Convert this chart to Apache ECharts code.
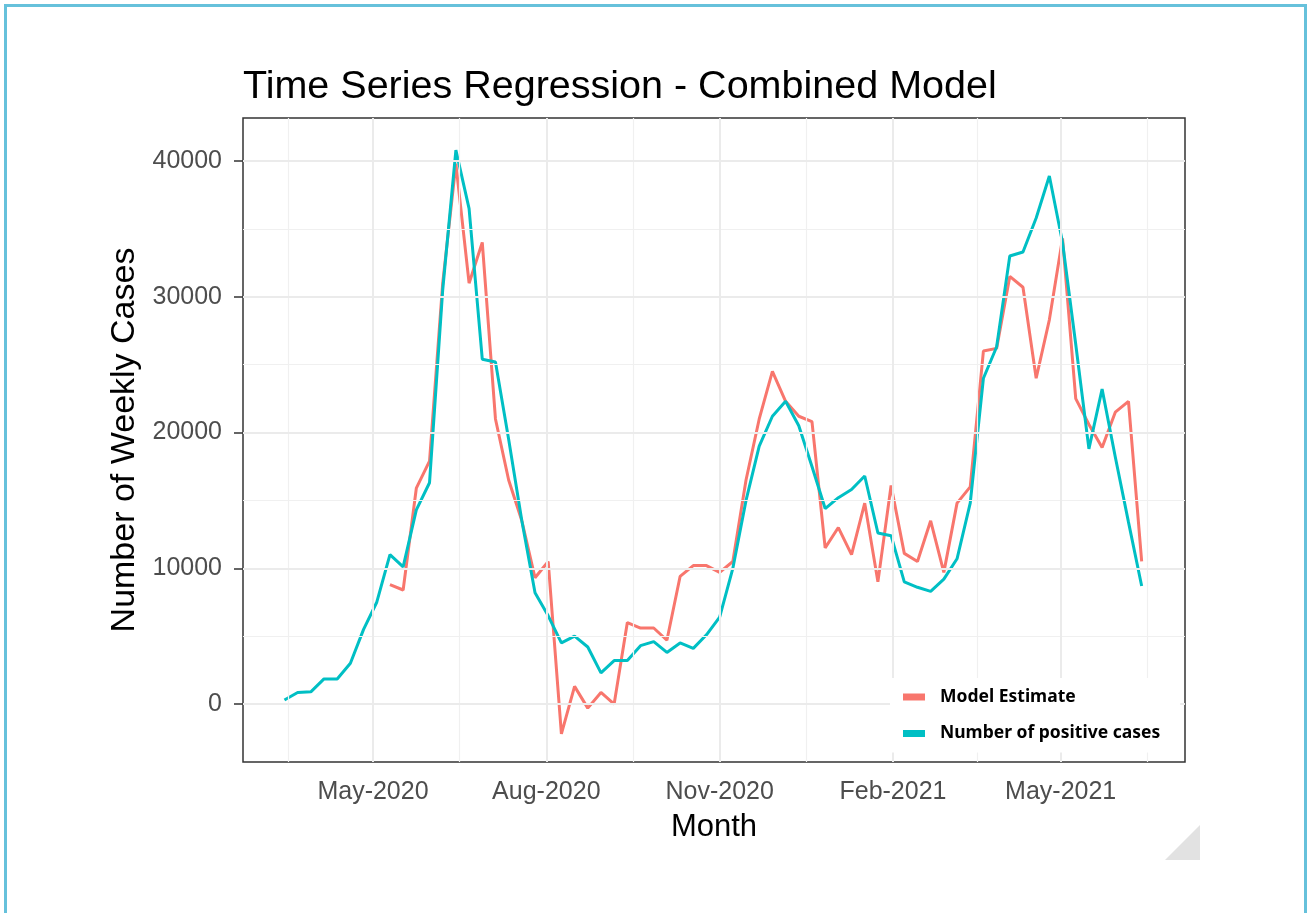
<!DOCTYPE html>
<html>
<head>
<meta charset="utf-8">
<title>Time Series Regression - Combined Model</title>
<script src="https://cdn.jsdelivr.net/npm/echarts@6/dist/echarts.min.js"></script>
<style>
  html, body { margin: 0; padding: 0; background: #fff; }
  #chart { width: 1312px; height: 913px; }
</style>
</head>
<body>
<div id="chart"></div>
<script>
// weekly dates (x)
const weekDates = [
  '2020-03-15', '2020-03-22', '2020-03-29', '2020-04-05', '2020-04-12', '2020-04-19', '2020-04-26',
  '2020-05-03', '2020-05-10', '2020-05-17', '2020-05-24', '2020-05-31', '2020-06-07', '2020-06-14',
  '2020-06-21', '2020-06-28', '2020-07-05', '2020-07-12', '2020-07-19', '2020-07-26', '2020-08-02',
  '2020-08-09', '2020-08-16', '2020-08-23', '2020-08-30', '2020-09-06', '2020-09-13', '2020-09-20',
  '2020-09-27', '2020-10-04', '2020-10-11', '2020-10-18', '2020-10-25', '2020-11-01', '2020-11-08',
  '2020-11-15', '2020-11-22', '2020-11-29', '2020-12-06', '2020-12-13', '2020-12-20', '2020-12-27',
  '2021-01-03', '2021-01-10', '2021-01-17', '2021-01-24', '2021-01-31', '2021-02-07', '2021-02-14',
  '2021-02-21', '2021-02-28', '2021-03-07', '2021-03-14', '2021-03-21', '2021-03-28', '2021-04-04',
  '2021-04-11', '2021-04-18', '2021-04-25', '2021-05-02', '2021-05-09', '2021-05-16', '2021-05-23',
  '2021-05-30', '2021-06-06', '2021-06-13'
]

// Number of positive cases (weekly)
const positiveCases = [
  300, 850, 900, 1850, 1850, 3000, 5500, 7500, 11000, 10100,
  14300, 16300, 30500, 40800, 36500, 25400, 25200, 19500, 13500, 8200,
  6500, 4500, 5000, 4200, 2300, 3200, 3200, 4300, 4600, 3800,
  4500, 4100, 5100, 6400, 10000, 15000, 19000, 21200, 22300, 20500,
  17500, 14400, 15200, 15800, 16800, 12600, 12400, 9000, 8600, 8300,
  9200, 10700, 14800, 24000, 26300, 33000, 33300, 35800, 38900, 34000,
  26500, 18800, 23200, 18200, 13400, 8700
]

// Model estimate (starts in May-2020)
const modelEstimate = [
  null, null, null, null, null, null, null, null,
  8800, 8400, 15900, 17900, 31000, 39800, 31000, 34000, 21000, 16500,
  13500, 9300, 10500, -2200, 1300, -300, 850, 0, 6000, 5600,
  5600, 4700, 9400, 10200, 10200, 9700, 10500, 16500, 21000, 24500,
  22300, 21200, 20800, 11500, 13000, 11000, 14800, 9000, 16100, 11100,
  10500, 13500, 9700, 14800, 16000, 26000, 26200, 31500, 30700, 24000,
  28300, 34300, 22500, 20600, 18900, 21500, 22300, 10500
]

// axis breaks
const monthBreaks = ['2020-05-01', '2020-08-01', '2020-11-01', '2021-02-01', '2021-05-01']
const monthLabels = ['May-2020', 'Aug-2020', 'Nov-2020', 'Feb-2021', 'May-2021']
const yBreaks = [0, 10000, 20000, 30000, 40000]
const yMinorBreaks = [5000, 15000, 25000, 35000]

const t = s => Date.parse(s)
const xMajor = monthBreaks.map(t)
// minor breaks sit halfway between the majors (and one step outside each end)
const xAll = [t('2020-02-01')].concat(xMajor, [t('2021-08-01')])
const xMinor = []
for (let i = 0; i < xAll.length - 1; i++) xMinor.push((xAll[i] + xAll[i + 1]) / 2)

const labelMap = {}
xMajor.forEach((v, i) => { labelMap[v] = monthLabels[i] })

const majorStyle = { color: '#EBEBEB', width: 2, type: 'solid' }
const minorStyle = { color: '#F0F0F0', width: 1.2, type: 'solid' }

const gridLines = []
xMinor.forEach(v => gridLines.push({ xAxis: v, lineStyle: minorStyle }))
yMinorBreaks.forEach(v => gridLines.push({ yAxis: v, lineStyle: minorStyle }))
xMajor.forEach(v => gridLines.push({ xAxis: v, lineStyle: majorStyle }))
yBreaks.forEach(v => gridLines.push({ yAxis: v, lineStyle: majorStyle }))

const chart = echarts.init(document.getElementById('chart'))

chart.setOption({
  animation: false,
  backgroundColor: '#fff',
  title: {
    text: 'Time Series Regression - Combined Model',
    left: 243,
    top: 67,
    padding: 0,
    textStyle: { fontFamily: 'Liberation Sans', fontSize: 39.5, fontWeight: 'normal', color: '#000' }
  },
  graphic: [
    {
      type: 'rect', silent: true,
      shape: { x: 5.5, y: 5.5, width: 1300, height: 930 },
      style: { fill: 'none', stroke: '#66C1DB', lineWidth: 3 }
    },
    {
      type: 'polygon', silent: true,
      shape: { points: [[1200, 825], [1200, 860], [1165, 860]] },
      style: { fill: '#E2E2E2' }
    }
  ],
  legend: {
    data: ['Model Estimate', 'Number of positive cases'],
    z: 20,
    orient: 'vertical',
    left: 890,
    top: 678,
    padding: [10, 20, 10, 13],
    backgroundColor: '#fff',
    itemWidth: 22,
    itemHeight: 7,
    itemGap: 18.5,
    icon: 'rect',
    textStyle: { fontFamily: 'Noto Sans', fontSize: 17.5, fontWeight: 'bold', color: '#000', padding: [0, 0, 0, 10] }
  },
  grid: {
    left: 243, top: 118, width: 942, height: 644,
    show: true, backgroundColor: '#fff', borderColor: '#333', borderWidth: 1.5
  },
  xAxis: {
    type: 'value',
    min: t('2020-02-22'),
    max: t('2021-07-06'),
    name: 'Month',
    nameLocation: 'middle',
    nameGap: 50,
    nameTextStyle: { fontFamily: 'Liberation Sans', fontSize: 31, color: '#000' },
    axisLine: { show: false },
    splitLine: { show: false },
    axisTick: { show: true, customValues: xMajor, length: 9, lineStyle: { color: '#333', width: 1.5 } },
    axisLabel: {
      customValues: xMajor,
      formatter: v => labelMap[v] || '',
      margin: 18,
      fontFamily: 'Liberation Sans', fontSize: 25, color: '#4D4D4D'
    }
  },
  yAxis: {
    type: 'value',
    min: -4270,
    max: 43170,
    name: 'Number of Weekly Cases',
    nameLocation: 'middle',
    nameGap: 94,
    nameTextStyle: { fontFamily: 'Liberation Sans', fontSize: 34, color: '#000' },
    axisLine: { show: false },
    splitLine: { show: false },
    axisTick: { show: true, customValues: yBreaks, length: 9, lineStyle: { color: '#333', width: 1.5 } },
    axisLabel: {
      customValues: yBreaks,
      formatter: v => String(v),
      margin: 21,
      fontFamily: 'Liberation Sans', fontSize: 25, color: '#4D4D4D'
    }
  },
  series: [
    {
      name: 'gridlines',
      type: 'line',
      data: [],
      silent: true,
      z: 0,
      markLine: { silent: true, symbol: 'none', label: { show: false }, data: gridLines }
    },
    {
      name: 'Model Estimate',
      type: 'line',
      z: 3,
      showSymbol: false,
      connectNulls: false,
      color: '#F8766D',
      lineStyle: { width: 3, color: '#F8766D' },
      data: weekDates.map((d, i) => [t(d), modelEstimate[i]])
    },
    {
      name: 'Number of positive cases',
      type: 'line',
      z: 3,
      showSymbol: false,
      color: '#00BFC4',
      lineStyle: { width: 3, color: '#00BFC4' },
      data: weekDates.map((d, i) => [t(d), positiveCases[i]])
    }
  ]
})
</script>
</body>
</html>
